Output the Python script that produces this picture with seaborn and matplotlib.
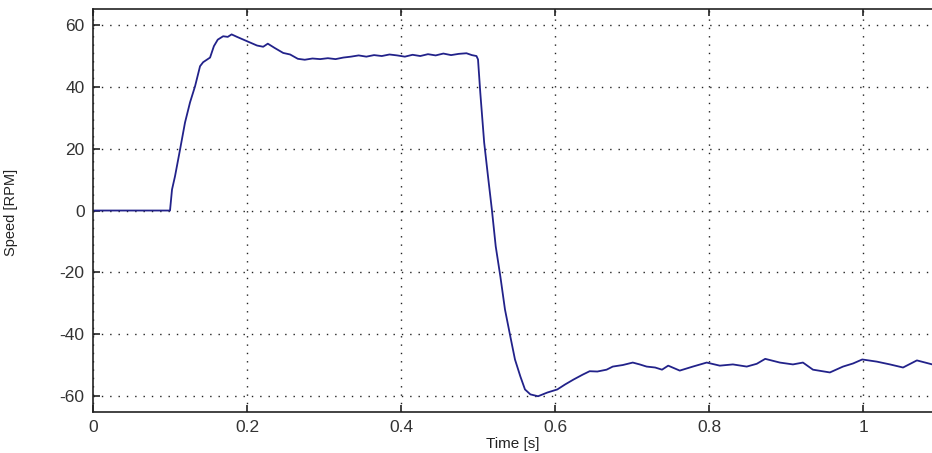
import numpy as np
import pandas as pd
import matplotlib
matplotlib.use("Agg")
import matplotlib.pyplot as plt
import seaborn as sns

# Time [s]
time_s = [0.0, 0.100, 0.1026, 0.1065, 0.113, 0.1195, 0.126, 0.1325, 0.139, 0.143,
          0.152, 0.157, 0.162, 0.169, 0.175, 0.180, 0.187, 0.200, 0.213, 0.221,
          0.227, 0.236, 0.247, 0.256, 0.266, 0.275, 0.285, 0.295, 0.305, 0.315,
          0.325, 0.335, 0.345, 0.355, 0.365, 0.375, 0.385, 0.395, 0.405, 0.415,
          0.425, 0.435, 0.445, 0.455, 0.465, 0.475, 0.485, 0.492, 0.498, 0.500,
          0.503, 0.508, 0.513, 0.518, 0.523, 0.529, 0.535, 0.542, 0.548, 0.555,
          0.561, 0.568, 0.578, 0.590, 0.603, 0.613, 0.624, 0.636, 0.645, 0.655,
          0.667, 0.675, 0.688, 0.701, 0.710, 0.719, 0.730, 0.739, 0.747, 0.762,
          0.779, 0.797, 0.814, 0.831, 0.849, 0.862, 0.873, 0.892, 0.909, 0.922,
          0.935, 0.957, 0.974, 0.987, 0.999, 1.018, 1.035, 1.052, 1.070, 1.090]
# Speed [RPM]
speed_rpm = [0.0, 0.0, 6.8, 11.1, 19.7, 28.5, 35.0, 40.2, 46.7, 48.0,
             49.5, 53.2, 55.3, 56.4, 56.2, 57.0, 56.2, 54.8, 53.4, 53.0,
             54.0, 52.6, 51.0, 50.5, 49.1, 48.8, 49.2, 49.0, 49.3, 49.0,
             49.5, 49.8, 50.2, 49.8, 50.3, 50.0, 50.5, 50.2, 49.8, 50.4,
             50.0, 50.6, 50.2, 50.8, 50.3, 50.7, 50.9, 50.3, 50.0, 48.9,
             38.0, 22.0, 11.0, 0.3, -11.6, -21.3, -32.0, -40.8, -48.2, -53.7,
             -57.9, -59.5, -60.1, -58.9, -57.9, -56.3, -54.7, -53.1, -52.0, -52.1,
             -51.5, -50.5, -50.0, -49.2, -49.8, -50.5, -50.8, -51.5, -50.2, -51.8,
             -50.5, -49.2, -50.2, -49.8, -50.5, -49.6, -48.0, -49.2, -49.8, -49.2,
             -51.5, -52.4, -50.5, -49.5, -48.2, -48.9, -49.8, -50.8, -48.5, -49.8]

x_ticks = [0, 0.2, 0.4, 0.6, 0.8, 1.0]
x_tick_labels = ["0", "0.2", "0.4", "0.6", "0.8", "1"]
y_ticks = [-60, -40, -20, 0, 20, 40, 60]

df = pd.DataFrame({"Time [s]": time_s, "Speed [RPM]": speed_rpm})

sns.set_theme(style="white")
plt.rcParams["font.family"] = ["Liberation Sans", "DejaVu Sans"]
plt.rcParams["axes.unicode_minus"] = False

fig = plt.figure(figsize=(9.32, 4.53), dpi=100)
ax = fig.add_axes([0.0998, 0.0905, 0.9002, 0.8895])

sns.lineplot(data=df, x="Time [s]", y="Speed [RPM]", ax=ax, estimator=None,
             sort=False, color="#22228a", linewidth=1.3)

ax.set_xlim(0, 1.0896)
ax.set_ylim(-65.2, 65.2)
ax.set_xticks(x_ticks)
ax.set_xticklabels(x_tick_labels)
ax.set_yticks(y_ticks)

ax.grid(True, color="#222222", linestyle=(0, (1, 5)), linewidth=1.0)
for side in ["left", "bottom", "top"]:
    ax.spines[side].set_visible(True)
    ax.spines[side].set_color("#222222")
    ax.spines[side].set_linewidth(1.2)
ax.spines["right"].set_visible(False)

ax.tick_params(axis="both", direction="in", length=5, width=1.2, colors="#222222",
               labelsize=12.5, labelcolor="#333333", top=True, bottom=True, left=True,
               right=False, pad=6)

ax.set_xlabel("Time [s]", fontsize=11, color="#222222", labelpad=1)
ax.set_ylabel("Speed [RPM]", fontsize=10.5, color="#222222")
ax.yaxis.set_label_coords(-0.089, 0.496)

fig.savefig("out.png", dpi=100, facecolor="white")
